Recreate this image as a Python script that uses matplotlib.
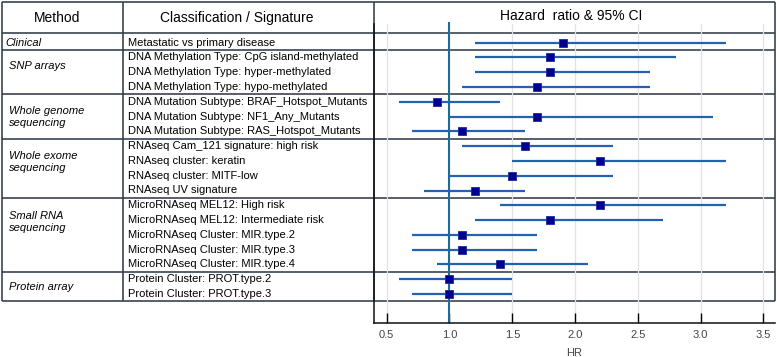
import matplotlib
matplotlib.use("Agg")
import matplotlib.pyplot as plt

plt.rcParams['font.family'] = ['Liberation Sans', 'DejaVu Sans']

# ==== data ====
methods = ["Clinical", "SNP arrays", "Whole genome\nsequencing",
           "Whole exome\nsequencing", "Small RNA\nsequencing", "Protein array"]
group_sizes = [1, 3, 3, 4, 5, 2]

signatures = [
    "Metastatic vs primary disease",
    "DNA Methylation Type: CpG island-methylated",
    "DNA Methylation Type: hyper-methylated",
    "DNA Methylation Type: hypo-methylated",
    "DNA Mutation Subtype: BRAF_Hotspot_Mutants",
    "DNA Mutation Subtype: NF1_Any_Mutants",
    "DNA Mutation Subtype: RAS_Hotspot_Mutants",
    "RNAseq Cam_121 signature: high risk",
    "RNAseq cluster: keratin",
    "RNAseq cluster: MITF-low",
    "RNAseq UV signature",
    "MicroRNAseq MEL12: High risk",
    "MicroRNAseq MEL12: Intermediate risk",
    "MicroRNAseq Cluster: MIR.type.2",
    "MicroRNAseq Cluster: MIR.type.3",
    "MicroRNAseq Cluster: MIR.type.4",
    "Protein Cluster: PROT.type.2",
    "Protein Cluster: PROT.type.3",
]
hr = [1.9, 1.8, 1.8, 1.7, 0.9, 1.7, 1.1, 1.6, 2.2, 1.5, 1.2,
      2.2, 1.8, 1.1, 1.1, 1.4, 1.0, 1.0]
ci_low = [1.2, 1.2, 1.2, 1.1, 0.6, 1.0, 0.7, 1.1, 1.5, 1.0, 0.8,
          1.4, 1.2, 0.7, 0.7, 0.9, 0.6, 0.7]
ci_high = [3.2, 2.8, 2.6, 2.6, 1.4, 3.1, 1.6, 2.3, 3.2, 2.3, 1.6,
           3.2, 2.7, 1.7, 1.7, 2.1, 1.5, 1.5]
xticks = [0.5, 1.0, 1.5, 2.0, 2.5, 3.0, 3.5]
ref_hr = 1.0

# ==== layout (pixels) ====
W, H = 777, 357
ROW0, ROWH = 42.7, 14.78     # pixel y of first row, row height


def px2row(p):
    return (p - ROW0) / ROWH


line_c = "#313c48"
line_w = 1.15

fig = plt.figure(figsize=(W / 100, H / 100), dpi=100)

# ---- table layer ----
ax_t = fig.add_axes([0, 0, 1, 1])
ax_t.set_xlim(0, W)
ax_t.set_ylim(px2row(H), px2row(0))
ax_t.axis("off")

x_left, x_col1, x_col2, x_right = 2, 123, 374, 775
top_row = px2row(2)
head_row = px2row(33.3)

bounds = [-0.5]
for s in group_sizes:
    bounds.append(bounds[-1] + s)
bottom_row = bounds[-1]

ax_t.hlines([top_row, head_row] + bounds[1:], x_left, x_right,
            color=line_c, lw=line_w)
ax_t.vlines([x_left, x_col1, x_col2, x_right], top_row, bottom_row,
            color=line_c, lw=line_w)

ax_t.text(57, px2row(18), "Method", ha="center", va="center", fontsize=10)
ax_t.text(237, px2row(18), "Classification / Signature", ha="center",
          va="center", fontsize=10)
ax_t.text(571, px2row(16), "Hazard  ratio & 95% CI", ha="center",
          va="center", fontsize=10)

for i, name in enumerate(methods):
    nlines = name.count("\n") + 1
    y = bounds[i] + min(group_sizes[i] / 2, 1.1 + 0.5 * (nlines - 1))
    x = 5 if i == 0 else 9
    ax_t.text(x, y, name, ha="left", va="center", fontsize=8,
              style="italic", linespacing=1.25)

for i, sig in enumerate(signatures):
    ax_t.text(128, i, sig, ha="left", va="center", fontsize=8)

# ---- forest plot ----
ax_top, ax_bot = 24, 322.5
px_per_unit = 125.6
x0_px = 386.7  # pixel of 0.5
ax_f = fig.add_axes([x_col2 / W, (H - ax_bot) / H,
                     (x_right - x_col2) / W, (ax_bot - ax_top) / H])
ax_f.set_facecolor("none")
ylo, yhi = px2row(ax_bot), px2row(ax_top)
ax_f.set_xlim(0.5 - (x0_px - x_col2) / px_per_unit,
              0.5 + (x_right - x0_px) / px_per_unit)
ax_f.set_ylim(ylo, yhi)

rows = list(range(len(hr)))
ax_f.hlines(rows, ci_low, ci_high, color="#2262b0", lw=1.6, zorder=3)
ax_f.plot(hr, rows, "s", color="#00008f", markersize=6,
          markeredgecolor="#1a2a9a", markeredgewidth=0.6, zorder=4)
ax_f.vlines(ref_hr, ylo, px2row(22), color="#1d6c98", lw=1.5, zorder=2,
            clip_on=False)

ax_f.set_xticks(xticks)
ax_f.set_xticklabels([f"{t:.1f}" for t in xticks])
ax_f.set_yticks([])
ax_f.grid(axis="x", color="#e2e2e2", lw=0.9, zorder=0)
ax_f.set_axisbelow(True)
ax_f.tick_params(axis="x", direction="in", length=7, width=1,
                 labelsize=8, labelcolor="#444444", pad=5.5)
for s in ["top", "right"]:
    ax_f.spines[s].set_visible(False)
for s in ["left", "bottom"]:
    ax_f.spines[s].set_linewidth(1.1)
    ax_f.spines[s].set_color("#111111")
ax_f.set_xlabel("HR", fontsize=8, color="#444444", labelpad=6)

fig.savefig("out.png", dpi=100)
